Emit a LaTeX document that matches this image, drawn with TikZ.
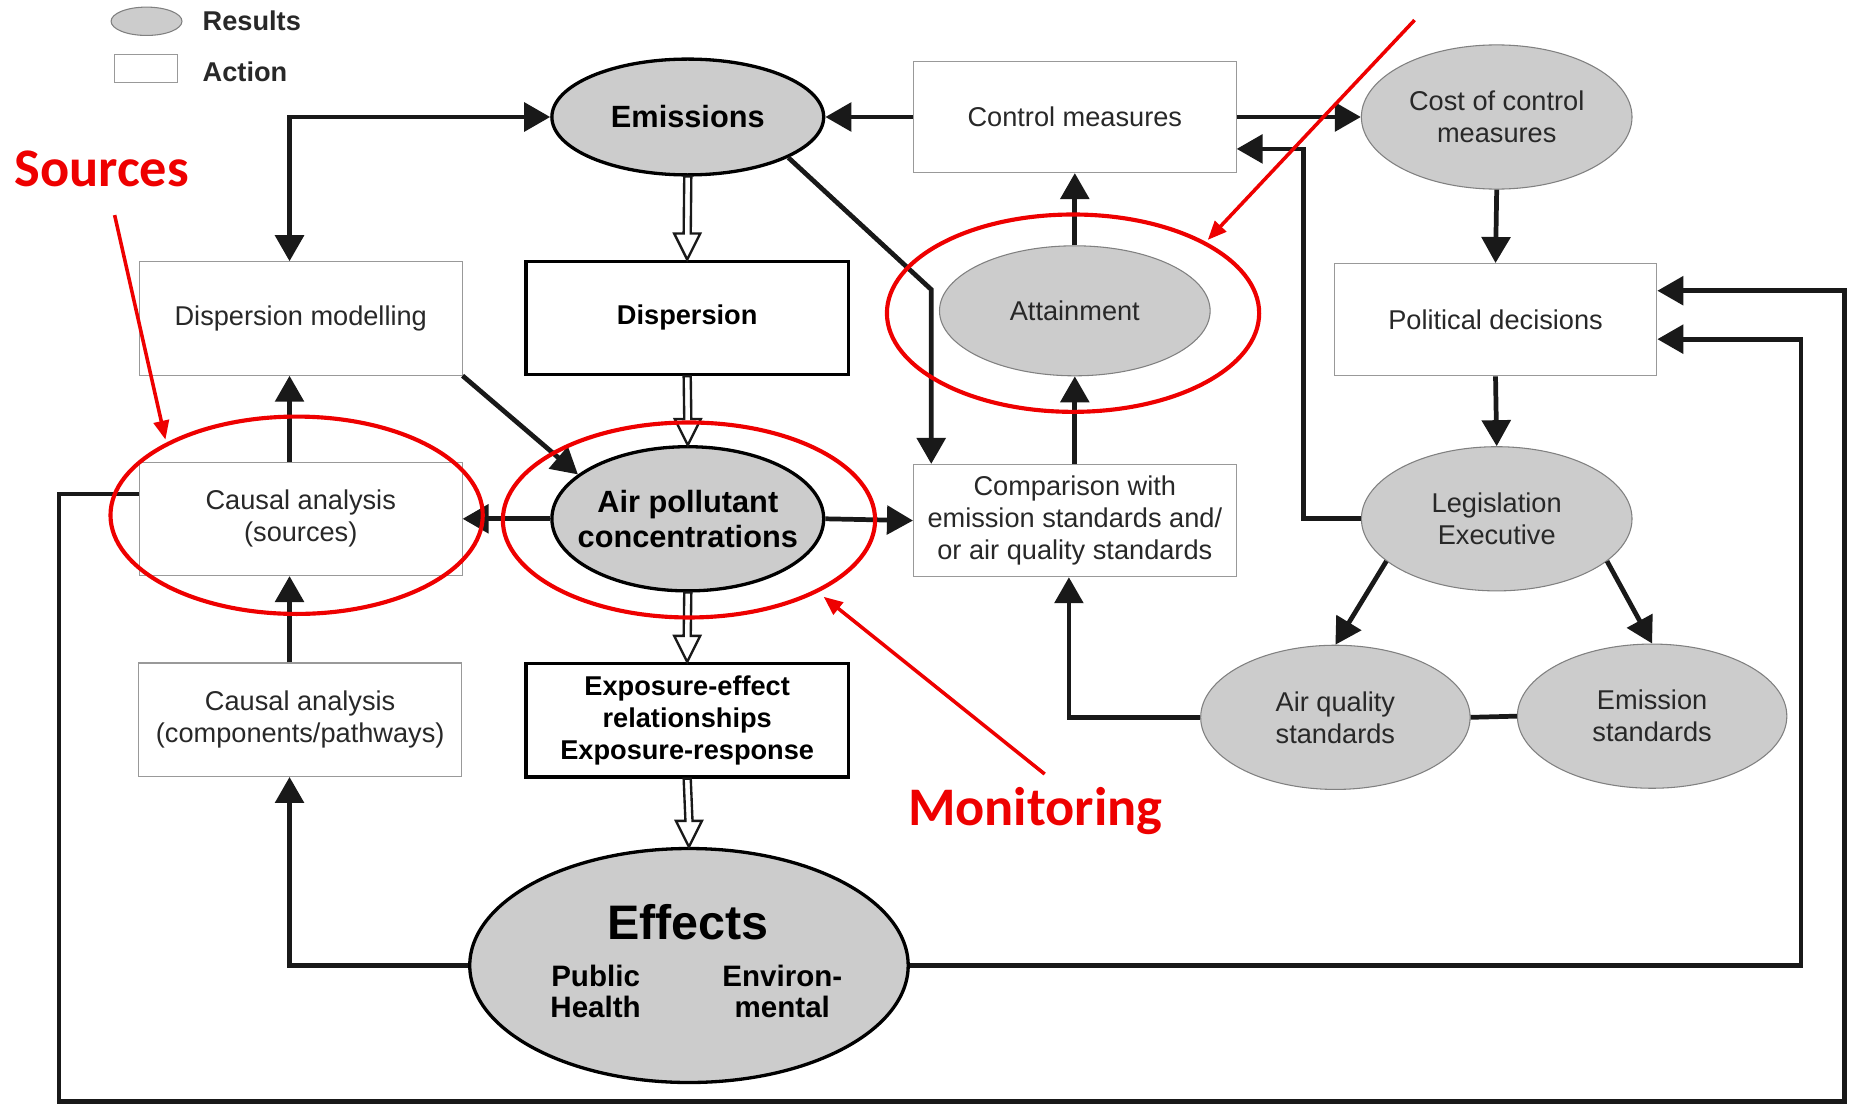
\documentclass[tikz,border=0pt]{standalone}
\usepackage{fontspec}
\setmainfont{Liberation Sans}
\newfontfamily\notefont{Carlito}
\usetikzlibrary{positioning}
\usetikzlibrary{calc}
\usetikzlibrary{arrows.meta}
\usetikzlibrary{shapes.geometric}
\definecolor{resgray}{RGB}{204,204,204}
\definecolor{inkgray}{RGB}{40,40,40}
\definecolor{notered}{RGB}{238,0,0}

\newcommand{\hollowarrow}[2]{%
  \draw [hollow] ($(#1)+(-3,0)$) -- ($(#2)+(-3,-22)$) -- ($(#2)+(-11,-22)$) -- (#2)
    -- ($(#2)+(11,-22)$) -- ($(#2)+(3,-22)$) -- ($(#1)+(3,0)$) -- cycle;}

\begin{document}
\begin{tikzpicture}[x=1pt,y=-1pt,
    >={Triangle[length=22pt,width=24pt]},
    result/.style={ellipse,draw=black!50,line width=0.9pt,fill=resgray,inner sep=0pt,
      minimum width=229,minimum height=122,align=center,text=inkgray,
      font=\fontsize{23}{27}\selectfont},
    resultmain/.style={result,draw=black,line width=2.8pt,text=black,
      font=\bfseries\fontsize{26}{30}\selectfont},
    action/.style={rectangle,draw=black!40,line width=0.9pt,fill=white,inner sep=0pt,
      minimum width=273,minimum height=96,align=center,text=inkgray,
      font=\fontsize{23}{27}\selectfont},
    actionmain/.style={action,draw=black,line width=2.8pt,text=black,
      font=\bfseries\fontsize{23}{27}\selectfont},
    effsub/.style={align=center,text=black,font=\bfseries\fontsize{25}{26}\selectfont},
    link/.style={draw=black!90,line width=4pt},
    hollow/.style={draw=black!90,line width=2pt,fill=white,line join=miter},
    ring/.style={ellipse,draw=notered,line width=3.5pt,inner sep=0pt,minimum width=315,minimum height=167},
    note/.style={text=notered,font=\notefont\bfseries\fontsize{46}{46}\selectfont},
    noteline/.style={draw=notered,line width=3pt,-{Triangle[length=16pt,width=13pt]}},
    legend/.style={anchor=west,text=inkgray,font=\bfseries\fontsize{23}{27}\selectfont}]

  \useasboundingbox [fill=white] (0,0) rectangle (1568,935);

  % legend
  \node [result,minimum width=60,minimum height=24] (legres) at (124,18) {};
  \node [action,minimum width=53,minimum height=24] (legact) at (123.5,58) {};
  \node [legend] (legrestext) at (168,18) {Results};
  \node [legend] (legacttext) at (168,61) {Action};

  % nodes
  \node [resultmain,minimum width=230,minimum height=98] (emis) at (582,99) {Emissions};
  \node [action,minimum height=94] (ctrl) at (909.5,99) {Control measures};
  \node [result] (cost) at (1266.5,99) {Cost of control\\measures};

  \node [action] (dispmod) at (254.5,269.5) {Dispersion modelling};
  \node [actionmain] (disp) at (581.5,269) {Dispersion};
  \node [result,minimum height=110] (att) at (909.5,263) {Attainment};
  \node [action,minimum height=95] (polit) at (1265.5,270.5) {Political decisions};

  \node [action] (caus) at (254.5,439) {Causal analysis\\(sources)};
  \node [resultmain,minimum width=230,inner xsep=-20pt] (apc) at (582,439) {Air pollutant\\concentrations};
  \node [action,minimum height=95] (comp) at (909.5,440.5) {Comparison with\\emission standards and/\\or air quality standards};
  \node [result] (legis) at (1266.5,439) {Legislation\\Executive};

  \node [action] (cauc) at (254,609) {Causal analysis\\(components/pathways)};
  \node [actionmain] (expo) at (581.5,609.5) {Exposure-effect\\relationships\\Exposure-response};
  \node [result,minimum width=228] (aqs) at (1130,607) {Air quality\\standards};
  \node [result,minimum width=228] (ems) at (1398,606) {Emission\\standards};

  \node [resultmain,minimum width=371,minimum height=198] (effects) at (583,817) {};
  \node [text=black,font=\bfseries\fontsize{41}{41}\selectfont] (efftitle) at (582,780) {Effects};
  \node [effsub] (effhealth) at (504,839) {Public\\Health};
  \node [effsub] (effenv) at (662,839) {Environ-\\mental};

  % main chain
  \hollowarrow{emis.south}{disp.north}
  \hollowarrow{disp.south}{apc.north}
  \hollowarrow{apc.south}{expo.north}
  \hollowarrow{expo.south}{effects.north}

  % connectors
  \draw [link,<->] ([xshift=-9.5pt]dispmod.north) |- (emis.west);
  \draw [link,->] (ctrl.west) -- (emis.east);
  \draw [link,->] (ctrl.east) -- (cost.west);
  \draw [link,->] (cost.south) -- (polit.north);
  \draw [link,->] (polit.south) -- (legis.north);
  \draw [link,->] (legis.201) -- (aqs.north);
  \draw [link,->] (legis.339) -- (ems.north);
  \draw [link] (aqs.east) -- (ems.west);

  \coordinate (legup) at (1103,126);
  \draw [link,->] (legis.west) -| (legup) -- (legup -| ctrl.east);
  \draw [link,->] (aqs.west) -| ([xshift=-5pt]comp.south);
  \draw [link,->] (comp.north) -- (att.south);
  \draw [link,->] (att.north) -- (ctrl.south);

  \coordinate (embend) at (788,245);
  \draw [link,->] (emis.338) -- (embend) -- (embend |- comp.north);
  \draw [link,->] (dispmod.south east) -- (apc.158);
  \draw [link,->] (apc.west) -- (caus.east);
  \draw [link,->] (apc.east) -- (comp.west);

  \draw [link,->] ([xshift=-9.5pt]caus.north) -- ([xshift=-9.5pt]dispmod.south);
  \draw [link,->] ([xshift=-9pt]cauc.north) -- ([xshift=-9.5pt]caus.south);
  \draw [link,->] (effects.west) -| ([xshift=-9pt]cauc.south);

  \coordinate (rightin) at (1524,287);
  \draw [link,->] (effects.east) -| (rightin) -- (rightin -| polit.east);
  \coordinate (loopa) at (50,932);
  \coordinate (loopb) at (1561,246);
  \draw [link,->] ([yshift=21pt]caus.west) -| (loopa) -| (loopb) -- (loopb -| polit.east);

  % red notes
  \node [ring] (ringcaus) at (251,436) {};
  \node [ring,minimum height=165] (ringapc) at (583,440) {};
  \node [ring] (ringatt) at (908,265) {};
  \node [note] (srcnote) at (86,143) {Sources};
  \node [note] (monnote) at (876,686) {Monitoring};

  \coordinate (srcfrom) at (97,182);
  \coordinate (srcto) at (140,372);
  \coordinate (attfrom) at (1197,17);
  \coordinate (attto) at (1022,203);
  \coordinate (monfrom) at (884,655);
  \coordinate (monto) at (697,505);
  \draw [noteline] (srcfrom) -- (srcto);
  \draw [noteline] (attfrom) -- (attto);
  \draw [noteline] (monfrom) -- (monto);
\end{tikzpicture}
\end{document}
